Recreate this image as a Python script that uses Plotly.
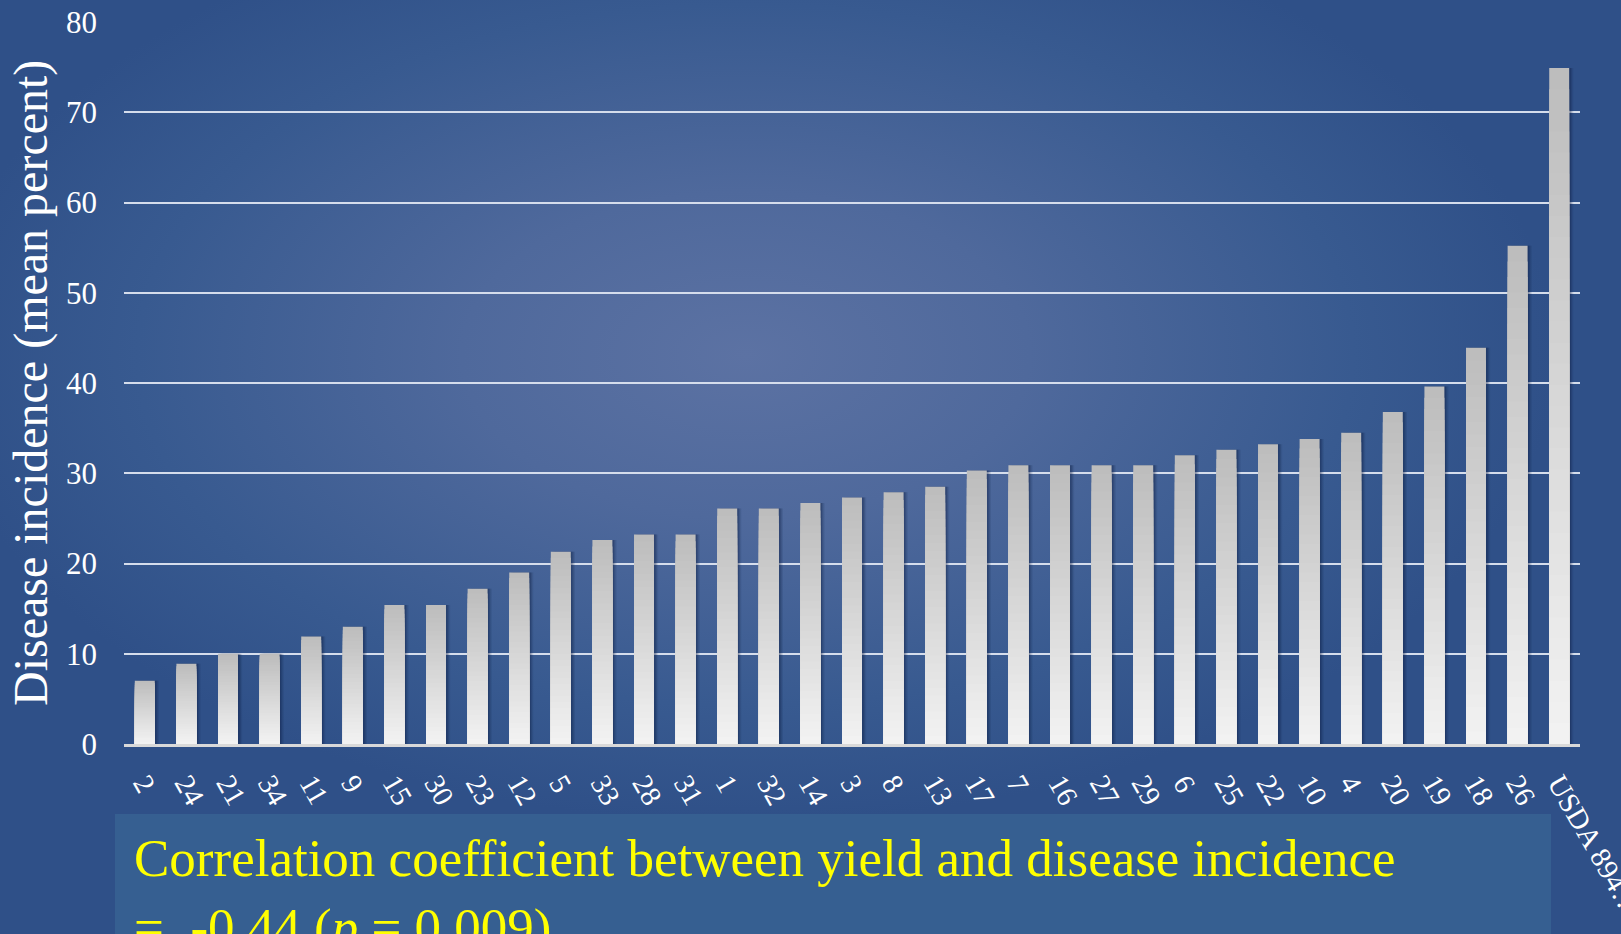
import base64
import plotly.graph_objects as go

# Entries sorted by mean disease incidence
entries = ["2", "24", "21", "34", "11", "9", "15", "30", "23", "12",
           "5", "33", "28", "31", "1", "32", "14", "3", "8", "13",
           "17", "7", "16", "27", "29", "6", "25", "22", "10", "4",
           "20", "19", "18", "26", "USDA 894…"]
incidence = [7.0, 8.9, 10.0, 10.0, 11.9, 13.0, 15.4, 15.4, 17.2, 19.0,
             21.3, 22.6, 23.2, 23.2, 26.1, 26.1, 26.7, 27.3, 27.9, 28.5,
             30.3, 30.9, 30.9, 30.9, 30.9, 32.0, 32.6, 33.2, 33.8, 34.5,
             36.8, 39.6, 43.9, 55.2, 74.9]
y_ticks = [0, 10, 20, 30, 40, 50, 60, 70, 80]

W, H = 1621, 934
L, R, T, B = 124, 41, 22, 190
PW, PH = W - L - R, H - T - B

SERIF = "Times New Roman, Liberation Serif, serif"
BAR_W = 0.48

fig = go.Figure()

# soft shadow to the right of each bar
for shift, alpha in [(0.10, 0.10), (0.07, 0.16), (0.04, 0.22)]:
    fig.add_trace(go.Bar(
        x=entries, y=incidence, width=BAR_W, offset=-BAR_W / 2 + shift,
        marker=dict(color=f"rgba(10,25,60,{alpha})", line_width=0),
        hoverinfo="skip", showlegend=False))


def mix(c1, c2, t):
    return "#" + "".join(f"{round(a + (b - a) * t):02x}" for a, b in zip(c1, c2))


# vertical gradient inside each bar: grey at the top, near white at the base
top_rgb, base_rgb = (0xBC, 0xBC, 0xBC), (0xF3, 0xF3, 0xF3)
N = 32
for k in range(N, 0, -1):
    frac = k / N
    col = mix(base_rgb, top_rgb, (k - 0.5) / N)
    fig.add_trace(go.Bar(
        x=entries, y=[v * frac for v in incidence], width=BAR_W, offset=-BAR_W / 2,
        marker=dict(color=col, line_width=0),
        hoverinfo="skip" if k < N else None,
        hovertemplate="%{x}: %{y:.1f}%<extra></extra>" if k == N else None,
        showlegend=False))

# slide background with a soft radial glow
svg = (
    f"<svg xmlns='http://www.w3.org/2000/svg' width='{W}' height='{H}'>"
    "<defs><radialGradient id='g' cx='0.46' cy='0.38' r='0.50'>"
    "<stop offset='0' stop-color='#5C72A3'/>"
    "<stop offset='0.35' stop-color='#4F699C'/>"
    "<stop offset='0.75' stop-color='#385A90'/>"
    "<stop offset='1' stop-color='#2F5088'/>"
    "</radialGradient></defs>"
    f"<rect width='{W}' height='{H}' fill='url(#g)'/></svg>"
)
bg_src = "data:image/svg+xml;base64," + base64.b64encode(svg.encode()).decode()

fig.add_layout_image(
    source=bg_src, xref="paper", yref="paper",
    x=-L / PW, y=1 + T / PH, sizex=W / PW, sizey=H / PH,
    xanchor="left", yanchor="top", sizing="stretch", layer="below")

# caption panel
fig.add_shape(type="rect", xref="paper", yref="paper",
              x0=(115 - L) / PW, x1=(1551 - L) / PW,
              y0=-(H + 20 - T - PH) / PH, y1=-(814 - T - PH) / PH,
              fillcolor="#365F91", line_width=0, layer="below")

fig.add_annotation(
    xref="paper", yref="paper", x=(132 - L) / PW, y=-(827 - T - PH) / PH,
    xanchor="left", yanchor="top", align="left", showarrow=False,
    text="Correlation coefficient between yield and disease incidence<br>"
         "=  -0.44 (<i>p</i> = 0.009)",
    font=dict(family=SERIF, size=53, color="#FFFF00"))

# y-axis title
fig.add_annotation(
    xref="paper", yref="paper", x=(31 - L) / PW, y=0.5,
    xanchor="center", yanchor="middle", textangle=-90, showarrow=False,
    text="Disease incidence (mean percent)",
    font=dict(family=SERIF, size=48, color="#FFFFFF"))

fig.update_layout(
    width=W, height=H,
    margin=dict(l=L, r=R, t=T, b=B, autoexpand=False),
    barmode="overlay",
    paper_bgcolor="#2F5088", plot_bgcolor="rgba(0,0,0,0)",
    font=dict(family=SERIF, color="#FFFFFF"),
    showlegend=False,
    xaxis=dict(
        type="category", categoryorder="array", categoryarray=entries,
        tickangle=60, tickfont=dict(size=29, color="#FFFFFF"),
        showgrid=False, showline=True, linecolor="#D9D9D9", linewidth=3,
        ticks="", ticklabelstandoff=8, automargin=False, fixedrange=True),
    yaxis=dict(
        range=[0, 80], tickvals=y_ticks,
        tickfont=dict(size=31, color="#FFFFFF"),
        showgrid=True, gridcolor="#D5DDEC", gridwidth=2,
        zeroline=False, showline=False, ticks="",
        ticklabelstandoff=26, automargin=False, fixedrange=True),
)

fig.write_html("out.html")
